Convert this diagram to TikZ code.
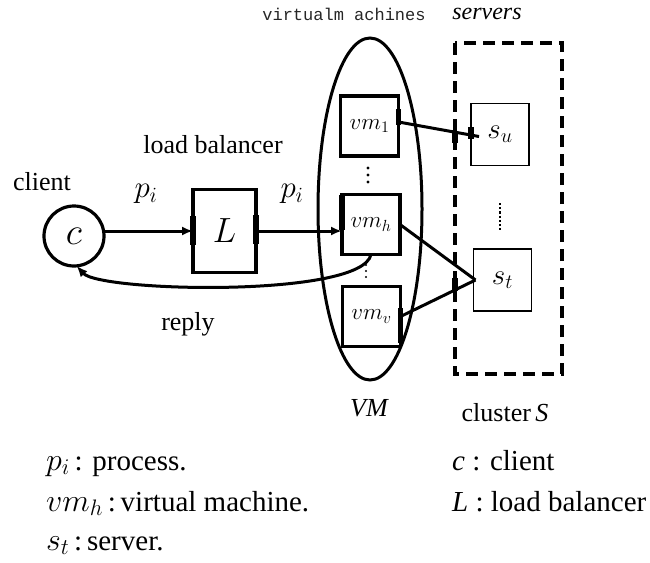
\RequirePackage{fix-cm}
\documentclass[tikz,border=0pt]{standalone}
\usepackage{fontspec}
\setmainfont{Liberation Serif}
\newfontfamily\monofam{Liberation Mono}
\usetikzlibrary{arrows.meta,calc}
% slightly larger math symbols in the legend lines
\newcommand\legmath[1]{{\fontsize{32}{36}\selectfont$#1$}}

\begin{document}
\begin{tikzpicture}[x=1pt,y=-1pt,
  lbl/.style={font=\fontsize{26}{30}\selectfont, inner sep=0},
  mlbl/.style={font=\fontsize{31}{34}\selectfont, inner sep=0},
  leg/.style={font=\fontsize{29}{34}\selectfont, inner sep=0, anchor=base west},
  vmbox/.style={draw, line width=3.2pt, minimum width=58pt, minimum height=60pt,
    inner sep=0, outer sep=0, font=\fontsize{23}{26}\selectfont},
  srvbox/.style={draw, line width=1.8pt, minimum width=58pt, minimum height=62pt,
    inner sep=0, outer sep=0, font=\fontsize{29}{32}\selectfont},
  conn/.style={line width=3pt},
  tip/.style={-{Latex[length=11pt,width=9pt]}},
  bar/.style={line width=5.5pt}]
\useasboundingbox (0,0) rectangle (650,562);

% client, load balancer
\node[draw, circle, line width=3.2pt, minimum size=60pt, inner sep=0, outer sep=0,
  font=\fontsize{38}{40}\selectfont] (c) at (74,236) {$c$};
\node[lbl] (clientlbl) at (42,182) {client};
\node[draw, line width=3.2pt, minimum width=63pt, minimum height=83pt, inner sep=0,
  outer sep=0, font=\fontsize{35}{38}\selectfont] (L) at (224.5,231) {$L$};
\node[lbl] (lblb) at (213,145) {load balancer};
\node[mlbl] (pa) at (146,194) {$p_i$};
\node[mlbl] (pb) at (292,194) {$p_i$};

% virtual machines
\draw[line width=3pt] (370,209) ellipse [x radius=52, y radius=171];
\node[vmbox] (vm1) at (369.5,126) {$vm_1$};
\node[vmbox] (vmh) at (371,224.5) {$vm_h$};
\node[vmbox] (vmv) at (371.5,316.5) {$vm_v$};
\foreach \yy in {168,175,182} \fill (368,\yy) circle (1.6pt);
\foreach \yy in {265,271,277} \fill (366,\yy) circle (1.1pt);
\node[font=\monofam\fontsize{17}{20}\selectfont, text=black!85, inner sep=0] (vmtitle) at (344,14) {virtualm achines};
\node[lbl, font=\itshape\fontsize{26}{30}\selectfont] (vmlbl) at (369,408) {VM};

% server cluster
\draw[line width=3.4pt, dash pattern=on 12pt off 7pt] (455,43) rectangle (562,374);
\node[srvbox] (su) at (500,134.5) {$s_u$};
\node[srvbox] (st) at (502.5,280) {$s_t$};
\draw[line width=2.2pt, dotted] (500,203) -- (500,230);
\node[inner sep=0, font=\itshape\fontsize{24}{26}\selectfont] (srvlbl) at (487,14) {servers};
\node[lbl] (clslbl) at (505,413) {cluster\,\textit{S}};

% connectors
\draw[conn, tip] (c.east |- L.west) -- (L.west);
\draw[conn, tip] (L.east) -- (L.east -| vmh.west);
\draw[conn] ([yshift=4]vm1.east) -- ([xshift=8,yshift=-2]su.west);
\draw[conn] (vmh.east) -- ([xshift=2]st.west);
\draw[conn] (vmv.east) -- ([xshift=2]st.west);
\draw[conn, tip] (vmh.south) .. controls (362,298) and (100,292) .. (c.-85);
\node[lbl] (reply) at (188,324) {reply};

% port marks
\draw[bar] ([yshift=-14]L.west) -- ([yshift=15]L.west);
\draw[bar] ([yshift=-13]L.east) -- ([yshift=16]L.east);
\draw[bar] ([yshift=-5]vmh.west) -- ([yshift=30]vmh.west);
\draw[bar] ([yshift=1]vm1.east) -- ([yshift=17]vm1.east);
\draw[bar] ([yshift=-26]vmv.east) -- ([yshift=9]vmv.east);
\draw[bar] ([yshift=-4]su.west) -- ([yshift=8]su.west);
\draw[bar] (455,131) -- (455,143);
\draw[bar] (455,278) -- (455,291);

% legend
\node[leg] (lg1) at (46,470) {\legmath{p_i}\,: process.};
\node[leg] (lg2) at (46,511) {\legmath{vm_h}\,:\,virtual machine.};
\node[leg] (lg3) at (46,550) {\legmath{s_t}\,:\,server.};
\node[leg] (lg4) at (452,470) {\textit{c} : client};
\node[leg] (lg5) at (452,511) {\textit{L} : load balancer};
\end{tikzpicture}
\end{document}
